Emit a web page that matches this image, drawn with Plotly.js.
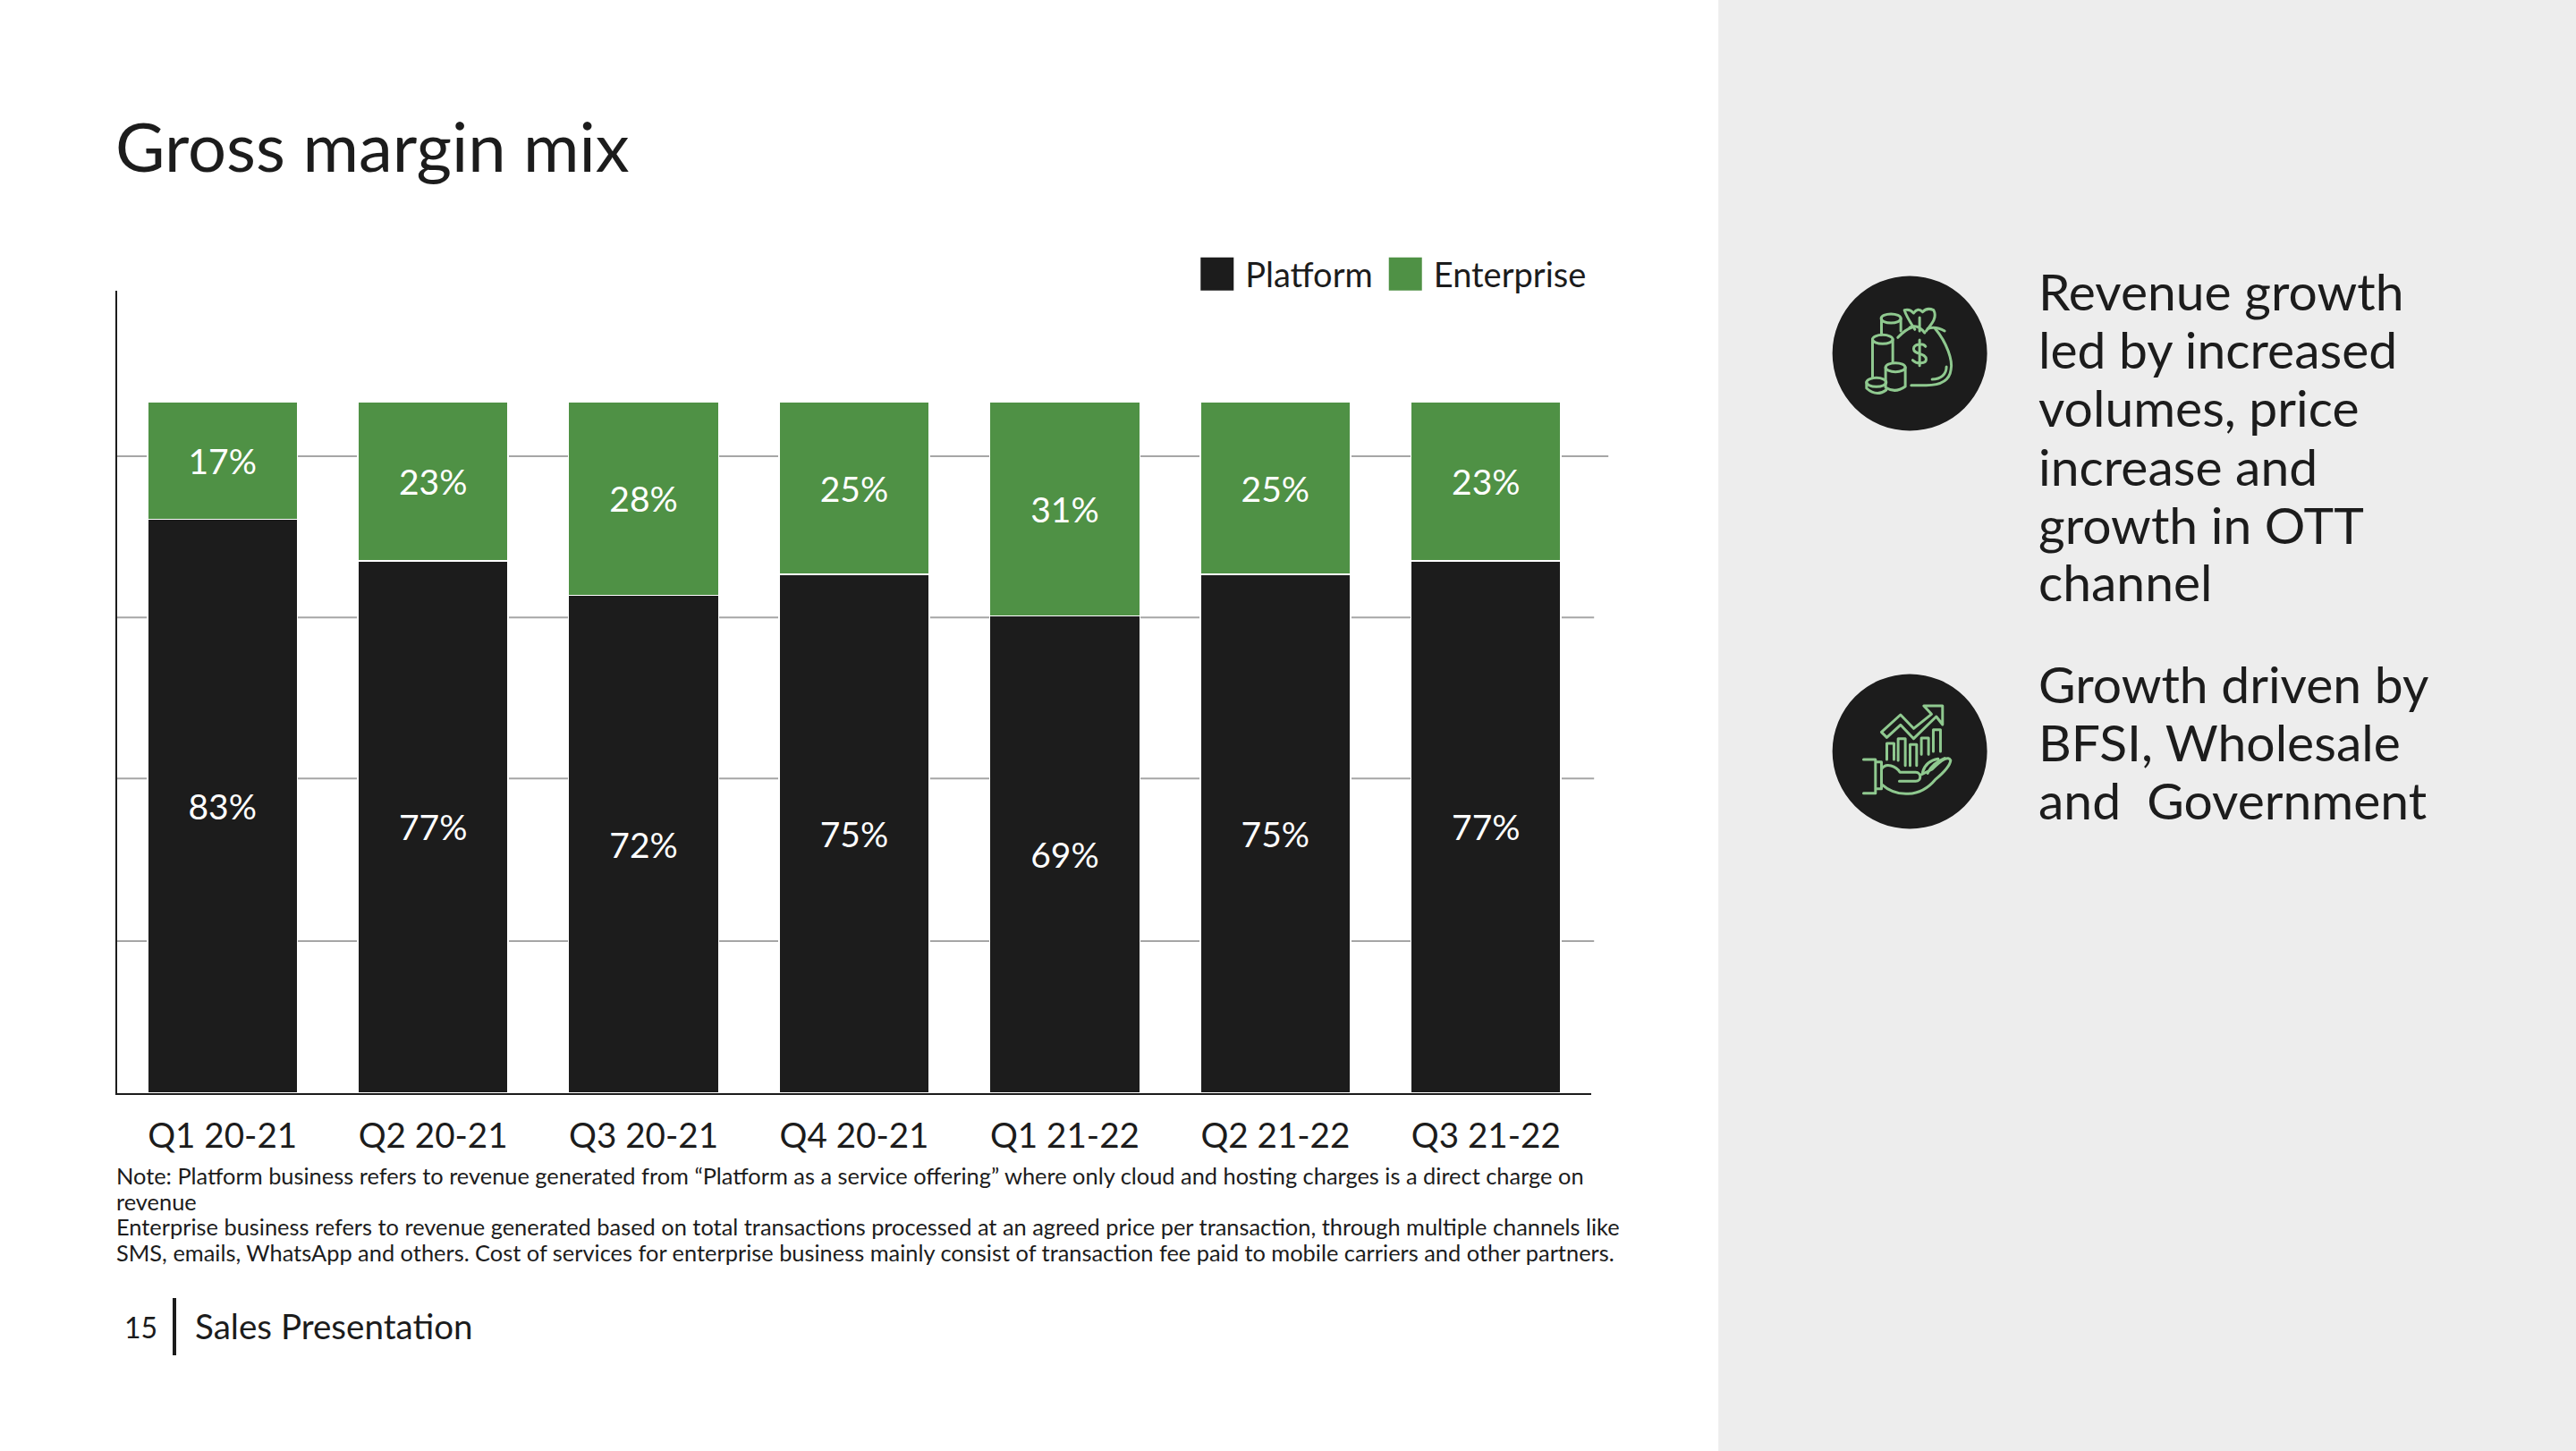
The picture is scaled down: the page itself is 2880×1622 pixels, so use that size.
<!DOCTYPE html>
<html>
<head>
<meta charset="utf-8">
<script src="https://cdn.plot.ly/plotly-3.0.1.min.js"></script>
<style>html,body{margin:0;padding:0;background:#fff}#chart{width:2880px;height:1622px}</style>
</head>
<body>
<div id="chart"></div>
<script>
const categories = ["Q1 20-21","Q2 20-21","Q3 20-21","Q4 20-21","Q1 21-22","Q2 21-22","Q3 21-22"];
const platform = [83,77,72,75,69,75,77];
const enterprise = [17,23,28,25,31,25,23];
const gridValues = [92.1,68.8,45.5,22.0];
const titleText = "Gross margin mix";
const noteLines = [
 "Note: Platform business refers to revenue generated from “Platform as a service offering” where only cloud and hosting charges is a direct charge on",
 "revenue",
 "Enterprise business refers to revenue generated based on total transactions processed at an agreed price per transaction, through multiple channels like",
 "SMS, emails, WhatsApp and others. Cost of services for enterprise business mainly consist of transaction fee paid to mobile carriers and other partners."
];
const noteY = [1314,1343,1371,1400];
const block1 = ["Revenue growth","led by increased","volumes, price","increase and","growth in OTT","channel"];
const block1Y = [325,390,455,521,586,650];
const block2 = ["Growth driven by","BFSI, Wholesale","and\u00a0 Government"];
const block2Y = [764,829,894];

const FONT = "Lato, sans-serif";
const INK = "#1c1c1c", GREEN = "#4f9145", GRID = "#a6a6a6";
const L=130.5,R=1778.8,T=325,B=1222;
const W=2880,H=1622;
const px=x=>(x-L)/(R-L), py=y=>(B-y)/(B-T);

const ic="#8fc98f";
function svg(inner){return "data:image/svg+xml;utf8,"+encodeURIComponent('<svg xmlns="http://www.w3.org/2000/svg" width="660" height="660" viewBox="0 0 660 660"><g fill="none" stroke="'+ic+'" stroke-width="9" stroke-linecap="round" stroke-linejoin="round">'+inner+'</g></svg>');}
const icon1=svg(`
<ellipse cx="282" cy="198" rx="33" ry="15"/><path d="M250,198V252M315,198V240"/>
<ellipse cx="254" cy="268" rx="34" ry="15"/><path d="M220,268V398M288,268V345"/>
<ellipse cx="297" cy="362" rx="33" ry="15"/><path d="M264,362V430M330,362V426Q297,450 264,430"/>
<ellipse cx="233" cy="412" rx="33" ry="15"/><path d="M200,412V432Q233,462 266,438"/>
<path d="M305,262Q330,235 352,228M430,232C470,280 490,340 483,370C478,410 440,422 400,422H350"/>
<path d="M420,402C450,402 468,385 468,360"/>
<path d="M362,235C350,215 335,195 327,170Q345,165 358,180Q372,160 388,176Q402,160 425,170C438,195 420,215 400,240"/>
<path d="M345,228Q372,215 395,246M462,240Q432,222 405,232M378,195V240"/>
<path d="M398,292C390,280 358,282 358,300C358,320 400,312 400,335C400,350 368,352 355,338M378,270V356"/>`);
const icon2=svg(`
<path d="M250,250L314,192L358,238L418,190L392,162H455V225L434,198L358,272L314,226L268,268Z"/>
<path d="M268,342V288H292V342M306,345V272H330V362M346,362V292H368V362M384,325V270H408V325M424,315V242H448V315"/>
<path d="M190,342H230V455H190M230,350H250V440H230"/>
<path d="M250,375C265,350 300,365 312,385H365C385,385 385,415 365,415H310"/>
<path d="M250,425C300,470 380,470 430,410C460,385 480,365 482,345C475,330 455,340 420,375L385,392"/>
<path d="M388,385C395,360 410,345 440,340M405,388C415,365 430,350 462,338"/>`);

const traces=[
 {type:"bar",name:"Platform",x:categories,y:platform,text:platform.map(v=>v+"%"),textposition:"inside",insidetextanchor:"middle",constraintext:"none",textangle:0,
  textfont:{family:FONT,size:39,color:"#fff"},marker:{color:INK,line:{color:"#fff",width:1.6}},hoverinfo:"x+y"},
 {type:"bar",name:"Enterprise",x:categories,y:enterprise,text:enterprise.map(v=>v+"%"),textposition:"inside",insidetextanchor:"middle",constraintext:"none",textangle:0,
  textfont:{family:FONT,size:39,color:"#fff"},marker:{color:GREEN,line:{color:"#fff",width:1.6}},hoverinfo:"x+y"}
];

const annotations=[];
function label(text,x,y,size,anchor){annotations.push({text,xref:"paper",yref:"paper",x:px(x),y:py(y),xanchor:anchor||"left",yanchor:"middle",showarrow:false,borderpad:0,borderwidth:0,font:{family:FONT,size,color:INK}});}
noteLines.forEach((t,i)=>label(t,129,noteY[i],25.4));
block1.forEach((t,i)=>label(t,2279,block1Y[i],57));
block2.forEach((t,i)=>label(t,2279,block2Y[i],57));
label("15",139,1483,32);
label("Sales Presentation",218,1482,38.6);

const shapes=[
 {type:"rect",xref:"paper",yref:"paper",x0:px(1921),x1:px(W),y0:py(0),y1:py(H),fillcolor:"#ededed",line:{width:0},layer:"below"},
 {type:"circle",xref:"paper",yref:"paper",x0:px(2135-86.5),x1:px(2135+86.5),y0:py(395-86.5),y1:py(395+86.5),fillcolor:INK,line:{width:0},layer:"below"},
 {type:"circle",xref:"paper",yref:"paper",x0:px(2135-86.5),x1:px(2135+86.5),y0:py(840-86.5),y1:py(840+86.5),fillcolor:INK,line:{width:0},layer:"below"},
 {type:"line",xref:"paper",yref:"paper",x0:px(194.5),x1:px(194.5),y0:py(1451),y1:py(1515),line:{color:INK,width:4}}
];
gridValues.forEach((v,i)=>shapes.push({type:"line",xref:"paper",yref:"y",x0:0,x1:px(i===0?1798:1782),y0:v,y1:v,line:{color:GRID,width:2},layer:"below"}));

const images=[
 {source:icon1,xref:"paper",yref:"paper",x:px(2020),y:py(290),sizex:px(2240)-px(2020),sizey:py(290)-py(510),sizing:"stretch",xanchor:"left",yanchor:"top",layer:"above"},
 {source:icon2,xref:"paper",yref:"paper",x:px(2020),y:py(735),sizex:px(2240)-px(2020),sizey:py(735)-py(955),sizing:"stretch",xanchor:"left",yanchor:"top",layer:"above"}
];

const layout={
 width:W,height:H,margin:{l:L,r:W-R,t:T,b:H-B,pad:0},autosize:false,
 paper_bgcolor:"#fff",plot_bgcolor:"rgba(0,0,0,0)",
 font:{family:FONT,color:INK},
 title:{text:titleText,xref:"container",yref:"container",x:129/W,xanchor:"left",y:1-165/H,yanchor:"middle",font:{family:FONT,size:76,color:INK},pad:{l:0,r:0,t:0,b:0}},
 barmode:"stack",bargap:0.287,
 xaxis:{type:"category",range:[-0.5,6.5],showgrid:false,zeroline:false,showline:true,linecolor:INK,linewidth:2,ticks:"",ticklabelstandoff:13,tickfont:{family:FONT,size:38.6,color:INK},automargin:false,fixedrange:true},
 yaxis:{range:[0,116.04],showgrid:false,zeroline:false,showline:true,linecolor:INK,linewidth:2,ticks:"",showticklabels:false,automargin:false,fixedrange:true},
 showlegend:true,
 legend:{orientation:"h",xref:"paper",yref:"paper",x:px(1329),xanchor:"left",y:py(275),yanchor:"top",traceorder:"normal",font:{family:FONT,size:38,color:INK},itemwidth:53,itemclick:false,itemdoubleclick:false,bgcolor:"rgba(0,0,0,0)"},
 shapes,annotations,images
};
const gd=document.getElementById("chart");
function bigSwatches(){
 document.querySelectorAll(".legend .traces path").forEach(p=>{
  const d=p.getAttribute("d")||"";
  if(d&&d!=="M18.5,18.5H-18.5V-18.5H18.5Z"&&!p.classList.contains("scrollbar")){p.setAttribute("d","M18.5,18.5H-18.5V-18.5H18.5Z");p.style.strokeWidth="0";}
 });
}
Plotly.newPlot(gd,traces,layout,{displayModeBar:false}).then(()=>{
 bigSwatches();
 gd.on("plotly_afterplot",bigSwatches);
});
</script>
</body>
</html>
